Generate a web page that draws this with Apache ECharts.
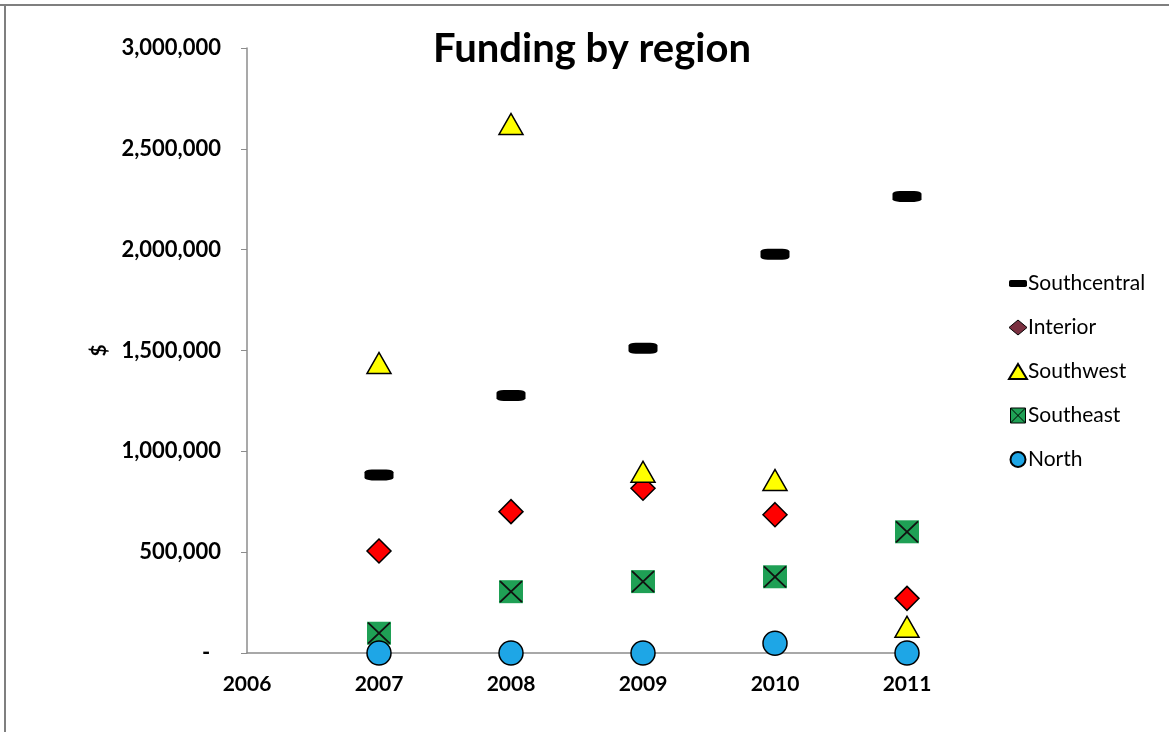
<!DOCTYPE html>
<html>
<head>
<meta charset="utf-8">
<title>Funding by region</title>
<script src="https://cdn.jsdelivr.net/npm/echarts@6/dist/echarts.min.js"></script>
<style>
  html, body { margin: 0; padding: 0; background: #fff; }
  #chart { width: 1169px; height: 732px; }
</style>
</head>
<body>
<div id="chart"></div>
<script>
// Funding per region and year, in dollars
const years = [2007, 2008, 2009, 2010, 2011];
const southcentral = [883000, 1277000, 1511000, 1977000, 2264000];
const interior     = [506000, 701000, 817000, 686000, 271000];
const southwest    = [1438000, 2623000, 899000, 858000, 130000];
const southeast    = [98000, 304000, 354000, 378000, 601000];
const north        = [0, 0, 0, 48000, 0];

// Axis ranges and tick steps
const xMin = 2006, xMax = 2011, xStep = 1;
const yMin = 0, yMax = 3000000, yStep = 500000;

const FONT = 'Lato, "Open Sans", sans-serif';
const pairs = vals => years.map((y, i) => [y, vals[i]]);

const crossPath = 'path://M0,0 L24,24 M24,0 L0,24';
const squareCross = 'path://M0,0 H24 V24 H0 Z M0,0 L24,24 M24,0 L0,24';

const chart = echarts.init(document.getElementById('chart'), null, { renderer: 'canvas' });

chart.setOption({
  backgroundColor: '#ffffff',
  animation: false,
  title: {
    text: 'Funding by region',
    left: 587, top: 24, textAlign: 'center',
    textStyle: { fontFamily: FONT, fontWeight: 'bold', fontSize: 40, color: '#000' }
  },
  graphic: [
    { type: 'line', silent: true, shape: { x1: 0, y1: 5, x2: 1169, y2: 5 },
      style: { stroke: '#7f7f7f', lineWidth: 2 } },
    { type: 'line', silent: true, shape: { x1: 5, y1: 5, x2: 5, y2: 732 },
      style: { stroke: '#7f7f7f', lineWidth: 2 } }
  ],
  legend: {
    orient: 'vertical', left: 1003, top: 268,
    itemGap: 23, itemWidth: 18, itemHeight: 15,
    textStyle: { fontFamily: FONT, fontSize: 21, color: '#000', padding: [0, 0, 0, -4] },
    data: [
      { name: 'Southcentral', icon: 'path://M2,0 H18 Q20,0 20,2 V6 Q20,8 18,8 H2 Q0,8 0,6 V2 Q0,0 2,0 Z' },
      { name: 'Interior', icon: 'diamond', itemStyle: { color: '#7a3040', borderColor: '#000', borderWidth: 1 } },
      { name: 'Southwest', icon: 'triangle' },
      { name: 'Southeast', icon: squareCross, itemStyle: { color: '#1fa055', borderColor: '#000', borderWidth: 1 } },
      { name: 'North', icon: 'circle' }
    ]
  },
  grid: { left: 247, top: 48, width: 660, height: 605, containLabel: false },
  xAxis: {
    type: 'value', min: xMin, max: xMax, interval: xStep,
    axisLine: { show: true, lineStyle: { color: '#8c8c8c', width: 1.5 } },
    axisTick: { show: false },
    splitLine: { show: false },
    axisLabel: {
      margin: 21, color: '#000', fontFamily: FONT, fontWeight: 'bold', fontSize: 21,
      formatter: v => String(v)
    }
  },
  yAxis: {
    type: 'value', min: yMin, max: yMax, interval: yStep,
    name: '$', nameLocation: 'middle', nameRotate: 90, nameGap: 137,
    nameTextStyle: { fontFamily: FONT, fontWeight: 'bold', fontSize: 21, color: '#000' },
    axisLine: { show: true, lineStyle: { color: '#8c8c8c', width: 1.5 } },
    axisTick: { show: true, inside: false, length: 6, lineStyle: { color: '#8c8c8c' } },
    splitLine: { show: false },
    axisLabel: {
      margin: 26, color: '#000', fontFamily: FONT, fontWeight: 'bold', fontSize: 22,
      formatter: v => v === 0 ? '-  ' : v.toLocaleString('en-US')
    }
  },
  series: [
    {
      name: 'Southcentral', type: 'scatter', data: pairs(southcentral),
      symbol: 'roundRect', symbolSize: [29, 11],
      itemStyle: { color: '#000', opacity: 1 }, z: 5
    },
    {
      name: 'Interior', type: 'scatter', data: pairs(interior),
      symbol: 'diamond', symbolSize: [24, 24],
      itemStyle: { color: '#ff0000', borderColor: '#000', borderWidth: 1.5, opacity: 1 }, z: 4
    },
    {
      name: 'Southwest', type: 'scatter', data: pairs(southwest),
      symbol: 'triangle', symbolSize: [24, 21],
      itemStyle: { color: '#ffff00', borderColor: '#000', borderWidth: 1.5, opacity: 1 }, z: 6
    },
    {
      name: 'Southeast', type: 'scatter', data: pairs(southeast),
      symbol: 'rect', symbolSize: [24, 23],
      itemStyle: { color: '#1fa055', opacity: 1 }, z: 3
    },
    {
      name: 'Southeast cross', type: 'scatter', data: pairs(southeast),
      symbol: crossPath, symbolSize: [22, 21], silent: true,
      itemStyle: { color: 'none', borderColor: '#111', borderWidth: 1.8, opacity: 1 }, z: 3.5
    },
    {
      name: 'North', type: 'scatter', data: pairs(north),
      symbol: 'circle', symbolSize: 24,
      itemStyle: { color: '#1ea6e6', borderColor: '#000', borderWidth: 1.5, opacity: 1 }, z: 7
    }
  ]
});
</script>
</body>
</html>
